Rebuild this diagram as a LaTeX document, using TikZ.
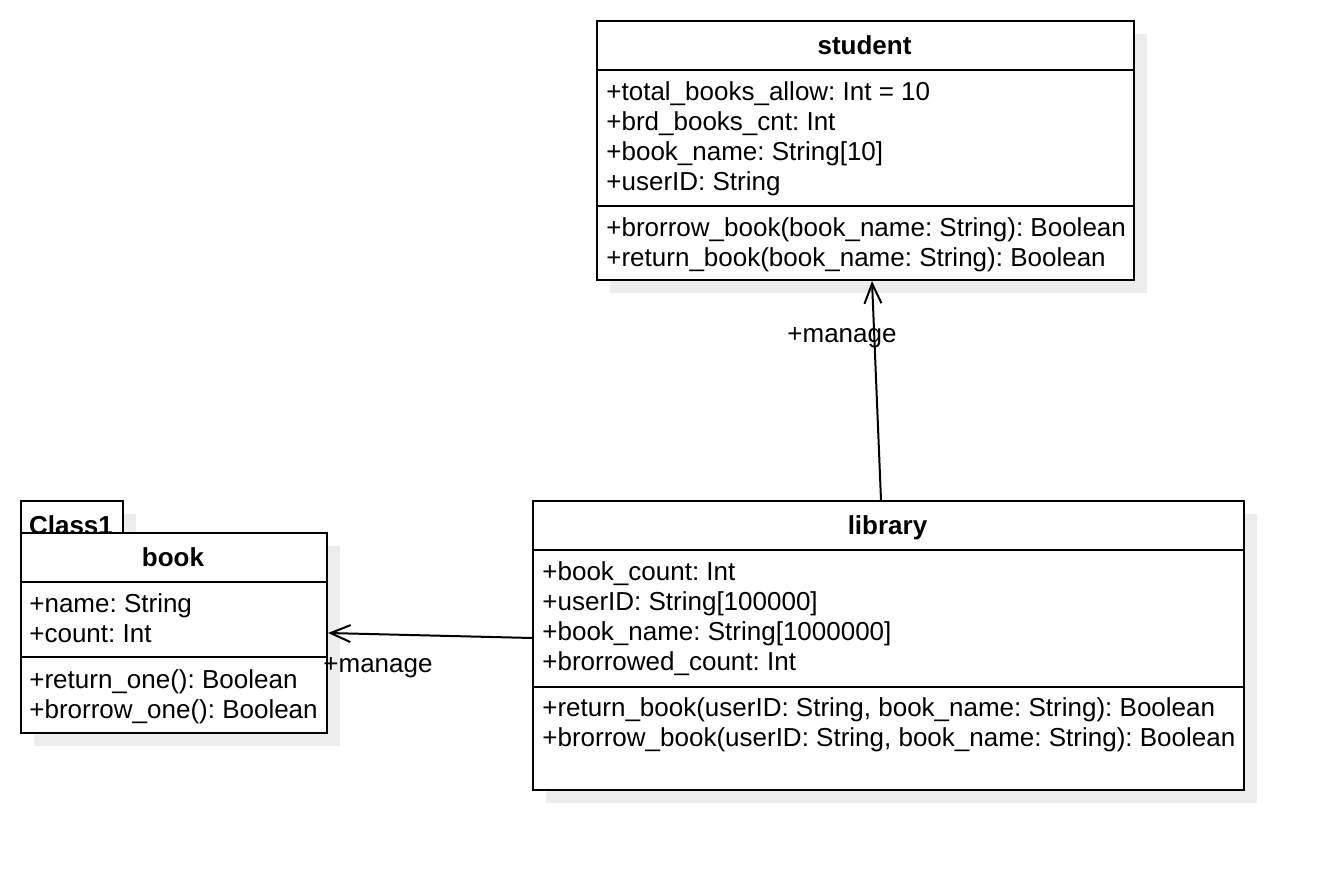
\documentclass[tikz,border=0pt]{standalone}
\usepackage{fontspec}
\setmainfont{Liberation Sans}
\usetikzlibrary{arrows.meta, positioning, shadows, calc}
\newcommand{\umlfont}{\fontsize{13}{15}\selectfont\frenchspacing}

\tikzset{
    classbox/.style={draw, line width=1pt, fill=white, inner sep=0pt, anchor=north west,
        drop shadow={shadow xshift=6.5pt, shadow yshift=-6.5pt, fill=black!7, opacity=1}},
    classname/.style={font=\umlfont\bfseries, inner sep=0pt, anchor=base},
    members/.style={font=\umlfont, align=left, inner sep=0pt, anchor=north west},
    rolelabel/.style={font=\umlfont, inner sep=0pt, anchor=base},
    assoc/.style={line width=1pt, -{Straight Barb[length=10pt, width=8.5pt]}},
}

\begin{document}
\begin{tikzpicture}[x=0.5pt, y=-0.5pt]
        \fill[white] (0,0) rectangle (1322,870);
        \useasboundingbox (0,0) rectangle (1322,870);

        % student
        \node[classbox, minimum width=268.5pt, minimum height=129.5pt] (student) at (596,20) {};
        \node[classname] (student-name) at (864.5,54.5) {student};
        \draw[line width=1pt] (596,70) -- (1133,70);
        \draw[line width=1pt] (596,206) -- (1133,206);
        \node[members] (student-attr) at (606,79.5)
            {\strut+total\_books\_allow: Int = 10\\+brd\_books\_cnt: Int\\+book\_name: String[10]\\+userID: String};
        \node[members] (student-ops) at (606,215.5)
            {\strut+brorrow\_book(book\_name: String): Boolean\\+return\_book(book\_name: String): Boolean};

        % Class1, hidden behind book
        \node[classbox, minimum width=51pt, minimum height=30pt] (class1) at (20,500) {};
        \node[classname] (class1-name) at (71,534.5) {Class1};

        % book
        \node[classbox, minimum width=153pt, minimum height=100pt] (book) at (20,532) {};
        \node[classname] (book-name) at (173,566.5) {book};
        \draw[line width=1pt] (20,582) -- (326,582);
        \draw[line width=1pt] (20,657.5) -- (326,657.5);
        \node[members] (book-attr) at (29,591.5)
            {\strut+name: String\\+count: Int};
        \node[members] (book-ops) at (29,667.5)
            {\strut+return\_one(): Boolean\\+brorrow\_one(): Boolean};

        % library
        \node[classbox, minimum width=355.5pt, minimum height=144.5pt] (library) at (532,500) {};
        \node[classname] (library-name) at (887.5,534.5) {library};
        \draw[line width=1pt] (532,550) -- (1243,550);
        \draw[line width=1pt] (532,687) -- (1243,687);
        \node[members] (library-attr) at (542,559.5)
            {\strut+book\_count: Int\\+userID: String[100000]\\+book\_name: String[1000000]\\+brorrowed\_count: Int};
        \node[members] (library-ops) at (542,695.5)
            {\strut+return\_book(userID: String, book\_name: String): Boolean\\+brorrow\_book(userID: String, book\_name: String): Boolean};

        % associations
        \draw[assoc] ($(library.north)+(-7.5,0)$) -- ($(student.south)+(6.5,0)$);
        \node[rolelabel] (manage-student) at (842,342.5) {+manage};
        \draw[assoc] ($(library.west)+(0,-7.5)$) -- (book.east);
        \node[rolelabel] (manage-book) at (378,672.5) {+manage};
\end{tikzpicture}
\end{document}
